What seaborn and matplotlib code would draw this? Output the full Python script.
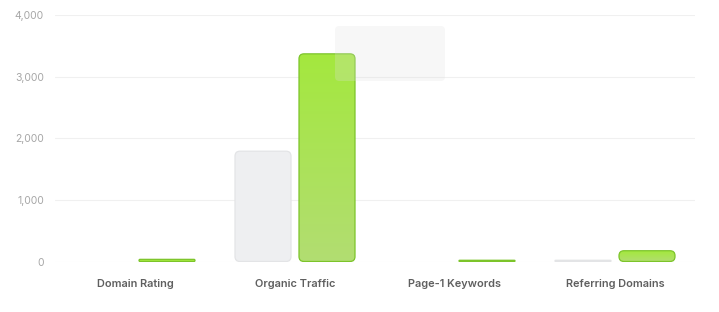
import numpy as np
import pandas as pd
import matplotlib
matplotlib.use("Agg")
import matplotlib.pyplot as plt
import seaborn as sns
from matplotlib.patches import FancyBboxPatch
from matplotlib.colors import LinearSegmentedColormap

categories = ["Domain Rating", "Organic Traffic", "Page-1 Keywords", "Referring Domains"]
before_values = [0, 1790, 0, 20]
after_values = [35, 3370, 20, 175]
series_names = ["Before", "After"]
y_ticks = [0, 1000, 2000, 3000, 4000]

df = pd.DataFrame({
    "category": categories * 2,
    "value": before_values + after_values,
    "series": [series_names[0]] * 4 + [series_names[1]] * 4,
})

sns.set_theme(style="white")
plt.rcParams["font.family"] = ["Inter", "DejaVu Sans"]

W, H = 719, 312
fig = plt.figure(figsize=(W / 100, H / 100), dpi=100)
ax = fig.add_axes([55 / W, 1 - 261.5 / H, 640 / W, (261.5 - 15) / H])

sns.barplot(data=df, x="category", y="value", hue="series", order=categories,
            hue_order=series_names, width=0.8, gap=0.125, ax=ax, legend=False,
            palette=["#eeeff1", "#a3e635"])

ax.set_xlim(-0.5, 3.5)
ax.set_ylim(0, 4000)
ax.set_yticks(y_ticks)
ax.set_yticklabels([f"{v:,}" for v in y_ticks])
ax.set_xlabel("")
ax.set_ylabel("")
for s in ax.spines.values():
    s.set_visible(False)
ax.grid(axis="y", color="#f0f0f0", linewidth=0.8, zorder=0)
ax.set_axisbelow(True)
ax.tick_params(axis="y", length=0, pad=8, labelsize=7.5, labelcolor="#a6a6a6")
ax.tick_params(axis="x", length=0, pad=12.5, labelsize=7.9, labelcolor="#5f5f5f")
for t in ax.get_xticklabels():
    t.set_fontweight("semibold")

px_x = 640 / 4.0
px_y = (261.5 - 15) / 4000.0
aspect = px_x / px_y
radius_px = 5.0

green_cmap = LinearSegmentedColormap.from_list("g", ["#b2dd72", "#a4e83e"])

bars = list(ax.patches)
for p in bars:
    x0, w = p.get_x(), p.get_width()
    h = p.get_height()
    fc = p.get_facecolor()
    p.set_visible(False)
    if h <= 0:
        continue
    is_green = fc[1] > fc[0] + 0.1
    r = min(radius_px / px_x, w / 2, (h / aspect) / 2)
    fb = FancyBboxPatch((x0, 0), w, h,
                        boxstyle=f"round,pad=0,rounding_size={r}",
                        mutation_aspect=aspect,
                        facecolor=("#a4e83e" if is_green else "#eeeff1"),
                        edgecolor=("#7cc42a" if is_green else "#e3e4e6"),
                        linewidth=0.9, zorder=3)
    ax.add_patch(fb)
    if is_green and h > 100:
        grad = np.linspace(0, 1, 256).reshape(-1, 1)
        im = ax.imshow(grad, cmap=green_cmap, origin="lower", aspect="auto",
                       extent=[x0, x0 + w, 0, h], zorder=2.9)
        im.set_clip_path(fb)
        fb.set_facecolor("none")

ax.set_xlim(-0.5, 3.5)
ax.set_ylim(0, 4000)

# faint tooltip ghost
ghost = FancyBboxPatch((335 / W, 1 - 81 / H), 110 / W, 55 / H,
                       boxstyle="round,pad=0,rounding_size=0.006",
                       mutation_aspect=W / H,
                       transform=fig.transFigure, facecolor="#e0e0e0",
                       alpha=0.25, edgecolor="none", zorder=10)
fig.patches.append(ghost)

fig.savefig("out.png", dpi=100)
